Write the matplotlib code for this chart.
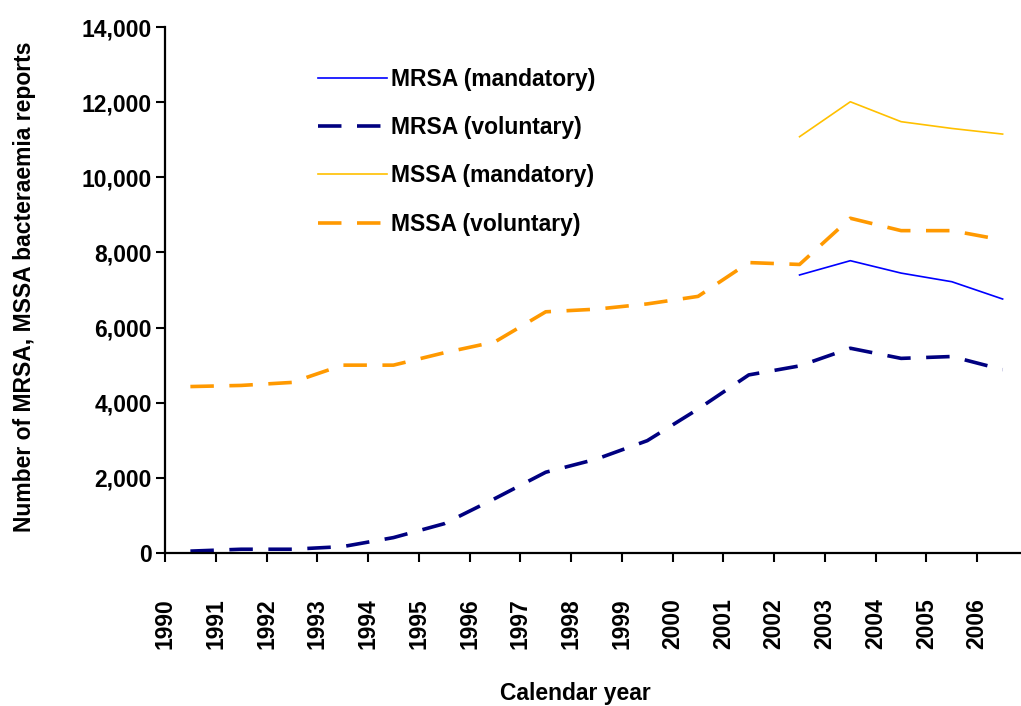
import matplotlib
matplotlib.use("Agg")
import matplotlib.pyplot as plt
import matplotlib.ticker as ticker

plt.rcParams['font.family'] = ['Liberation Sans', 'DejaVu Sans']

# Calendar years (categories) and report counts
years = list(range(1990, 2007))
mrsa_voluntary = [50, 100, 100, 170, 410, 780, 1450, 2150, 2500, 2990,
                  3830, 4740, 4980, 5450, 5180, 5230, 4880]
mssa_voluntary = [4430, 4460, 4540, 5000, 5000, 5330, 5620, 6420, 6490, 6630,
                  6830, 7730, 7680, 8910, 8580, 8580, 8330]
mand_years = [2002, 2003, 2004, 2005, 2006]
mrsa_mandatory = [7400, 7780, 7450, 7220, 6760]
mssa_mandatory = [11080, 12010, 11480, 11300, 11150]

# points sit in the middle of each category slot
x_vol = [y + 0.5 for y in years]
x_mand = [y + 0.5 for y in mand_years]

fig = plt.figure(figsize=(10.21, 7.06), dpi=100)
ax = fig.add_axes([165 / 1021, 1 - 553 / 706, 863 / 1021, 526 / 706])

dash = (6.5, 4.3)
ax.plot(x_mand, mrsa_mandatory, color='#0000FF', lw=1.2, label='MRSA (mandatory)')
ax.plot(x_vol, mrsa_voluntary, color='#000080', lw=2.6, dashes=dash, label='MRSA (voluntary)')
ax.plot(x_mand, mssa_mandatory, color='#FFC000', lw=1.2, label='MSSA (mandatory)')
ax.plot(x_vol, mssa_voluntary, color='#FF9900', lw=2.6, dashes=dash, label='MSSA (voluntary)')

ax.set_xlim(1990, 2007)
ax.set_ylim(0, 14000)
ax.set_xticks(years)
ax.set_xticklabels([str(y) for y in years], rotation=90, fontsize=16.5,
                   fontweight='bold', va='top', ha='center')
ax.set_yticks(range(0, 14001, 2000))
ax.yaxis.set_major_formatter(ticker.FuncFormatter(lambda v, pos: '{:,.0f}'.format(v)))
for lab in ax.get_yticklabels():
    lab.set_fontsize(16.5)
    lab.set_fontweight('bold')

ax.tick_params(axis='x', direction='out', length=6.5, width=1.5, pad=26)
ax.tick_params(axis='y', direction='out', length=6.5, width=1.5, pad=3)
for side in ['top', 'right']:
    ax.spines[side].set_visible(False)
for side in ['left', 'bottom']:
    ax.spines[side].set_linewidth(1.6)

ax.set_xlabel('Calendar year', fontsize=16.5, fontweight='bold', va='center')
ax.xaxis.set_label_coords(0.475, -0.268)
ax.set_ylabel('Number of MRSA, MSSA bacteraemia reports', fontsize=16.5,
              fontweight='bold', va='center')
ax.yaxis.set_label_coords(-0.163, 0.506)

leg = ax.legend(loc='upper left', bbox_to_anchor=(318 / 1021, 1 - 68 / 706),
                bbox_transform=fig.transFigure, frameon=False, borderpad=0,
                borderaxespad=0, handlelength=3.0, handletextpad=0.2,
                labelspacing=1.1, prop={'size': 16.5, 'weight': 'bold'})

fig.savefig('out.png', dpi=100)
